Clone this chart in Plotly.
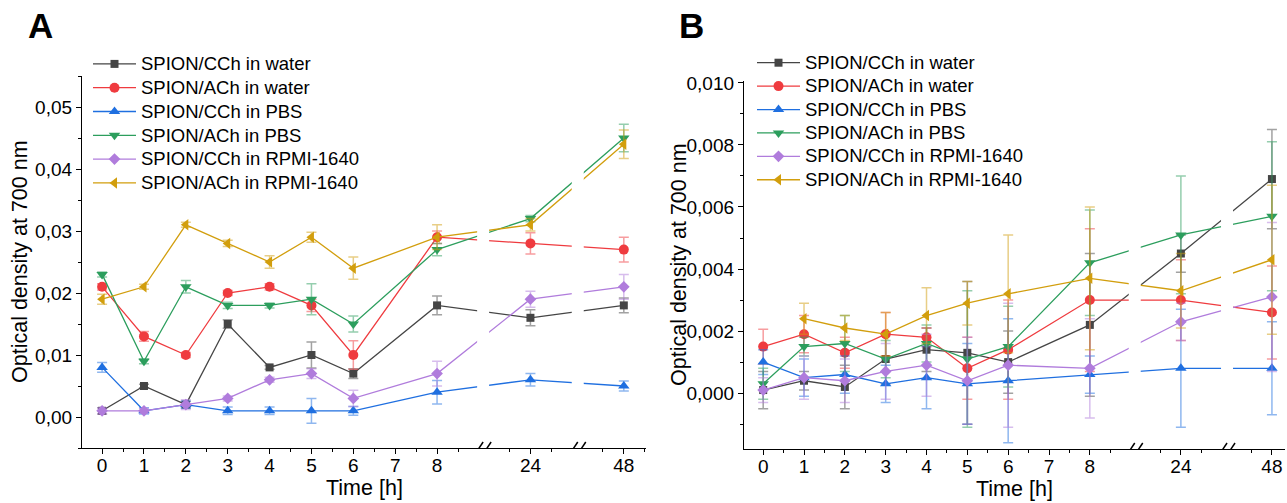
import plotly.graph_objects as go

# ---------------- data ----------------
times = [0, 1, 2, 3, 4, 5, 6, 8, 24, 48]
tick_hours = [0, 1, 2, 3, 4, 5, 6, 7, 8, 24, 48]
tick_labels = ["0", "1", "2", "3", "4", "5", "6", "7", "8", "24", "48"]

series_names = [
    "SPION/CCh in water",
    "SPION/ACh in water",
    "SPION/CCh in PBS",
    "SPION/ACh in PBS",
    "SPION/CCh in RPMI-1640",
    "SPION/ACh in RPMI-1640",
]

# Panel A
a_cch_water = [0.001, 0.005, 0.002, 0.015, 0.008, 0.010, 0.007, 0.018, 0.016, 0.018]
a_cch_water_err = [0.0005, 0.0003, 0.0005, 0.0007, 0.0003, 0.0021, 0.0008, 0.0015, 0.0013, 0.0012]
a_ach_water = [0.021, 0.013, 0.010, 0.020, 0.021, 0.018, 0.010, 0.029, 0.028, 0.027]
a_ach_water_err = [0.0005, 0.0008, 0.0004, 0.0004, 0.0005, 0.0010, 0.0023, 0.0010, 0.0017, 0.0020]
a_cch_pbs = [0.008, 0.001, 0.002, 0.001, 0.001, 0.001, 0.001, 0.004, 0.006, 0.005]
a_cch_pbs_err = [0.0008, 0.0005, 0.0006, 0.0006, 0.0006, 0.0020, 0.0007, 0.0019, 0.0010, 0.0008]
a_ach_pbs = [0.023, 0.009, 0.021, 0.018, 0.018, 0.019, 0.015, 0.027, 0.032, 0.045]
a_ach_pbs_err = [0.0004, 0.0004, 0.0010, 0.0005, 0.0004, 0.0025, 0.0013, 0.0010, 0.0005, 0.0022]
a_cch_rpmi = [0.001, 0.001, 0.002, 0.003, 0.006, 0.007, 0.003, 0.007, 0.019, 0.021]
a_cch_rpmi_err = [0.0005, 0.0004, 0.0008, 0.0004, 0.0004, 0.0008, 0.0013, 0.0020, 0.0013, 0.0020]
a_ach_rpmi = [0.019, 0.021, 0.031, 0.028, 0.025, 0.029, 0.024, 0.029, 0.031, 0.044]
a_ach_rpmi_err = [0.0008, 0.0004, 0.0004, 0.0005, 0.0010, 0.0008, 0.0018, 0.0020, 0.0010, 0.0023]

# Panel B
b_cch_water = [0.0001, 0.0004, 0.0002, 0.0011, 0.0014, 0.0013, 0.0010, 0.0022, 0.0045, 0.0069]
b_cch_water_err = [0.0006, 0.0003, 0.0007, 0.0008, 0.0007, 0.0023, 0.0010, 0.0023, 0.0006, 0.0016]
b_ach_water = [0.0015, 0.0019, 0.0013, 0.0019, 0.0018, 0.0008, 0.0014, 0.0030, 0.0030, 0.0026]
b_ach_water_err = [0.00056, 0.0006, 0.0005, 0.0007, 0.0003, 0.0010, 0.0016, 0.0023, 0.0013, 0.0015]
b_cch_pbs = [0.0010, 0.0005, 0.0006, 0.0003, 0.0005, 0.0003, 0.0004, 0.0006, 0.0008, 0.0008]
b_cch_pbs_err = [0.0004, 0.0006, 0.0006, 0.0006, 0.0010, 0.0013, 0.0020, 0.0006, 0.0019, 0.0015]
b_ach_pbs = [0.0003, 0.0015, 0.0016, 0.0011, 0.0016, 0.0011, 0.0015, 0.0042, 0.0051, 0.0057]
b_ach_pbs_err = [0.0005, 0.0003, 0.0009, 0.0006, 0.0006, 0.0022, 0.0013, 0.0017, 0.0019, 0.0024]
b_cch_rpmi = [0.0001, 0.0005, 0.0004, 0.0007, 0.0009, 0.0004, 0.0009, 0.0008, 0.0023, 0.0031]
b_cch_rpmi_err = [0.0004, 0.0007, 0.0007, 0.0009, 0.0010, 0.0014, 0.0020, 0.0016, 0.0006, 0.0024]
b_ach_rpmi = [None, 0.0024, 0.0021, 0.0019, 0.0025, 0.0029, 0.0032, 0.0037, 0.0033, 0.0043]
b_ach_rpmi_err = [None, 0.0005, 0.0004, 0.0007, 0.0009, 0.0007, 0.0019, 0.0023, 0.0012, 0.0024]

# ---------------- styling ----------------
colors = ["#454545", "#ef3b3f", "#1f6fe0", "#2c9e5d", "#b07cdc", "#d29e0d"]
err_colors = ["rgba(69,69,69,0.5)", "rgba(239,59,63,0.5)", "rgba(31,111,224,0.5)",
              "rgba(44,158,93,0.5)", "rgba(176,124,220,0.5)", "rgba(210,158,13,0.5)"]
symbols = ["square", "circle", "triangle-up", "triangle-down", "diamond", "triangle-left"]
sizes = [8, 10, 10, 10, 9, 10]
FONT = "Liberation Sans, Arial, sans-serif"
W, H = 1287, 503

# broken time axis: hours -> axis position (segments 0-8 | 24 | 48)
SEG_STEP = 2.23


def axis_pos(h):
    if h <= 8:
        return h
    return 8 + SEG_STEP * (1 if h == 24 else 2)


x_pos = [axis_pos(t) for t in times]
tick_pos = [axis_pos(t) for t in tick_hours]
break_pos = [9.1, 11.36]
minor_pos = [p + 0.5 for p in range(0, 9)] + [axis_pos(24) - 0.5, axis_pos(24) + 0.5,
                                               axis_pos(48) - 0.5, axis_pos(48) + 0.5]

panel_a = [a_cch_water, a_ach_water, a_cch_pbs, a_ach_pbs, a_cch_rpmi, a_ach_rpmi]
panel_a_err = [a_cch_water_err, a_ach_water_err, a_cch_pbs_err, a_ach_pbs_err, a_cch_rpmi_err, a_ach_rpmi_err]
panel_b = [b_cch_water, b_ach_water, b_cch_pbs, b_ach_pbs, b_cch_rpmi, b_ach_rpmi]
panel_b_err = [b_cch_water_err, b_ach_water_err, b_cch_pbs_err, b_ach_pbs_err, b_cch_rpmi_err, b_ach_rpmi_err]

fig = go.Figure()

for vals, errs, xa, ya, leg in [(panel_a, panel_a_err, "x", "y", "legend"),
                                (panel_b, panel_b_err, "x2", "y2", "legend2")]:
    for i in range(6):
        fig.add_trace(go.Scatter(
            x=x_pos, y=vals[i],
            name='<span style="font-size:18.5px">' + series_names[i] + "</span>",
            mode="lines+markers", xaxis=xa, yaxis=ya, legend=leg,
            line=dict(color=colors[i], width=1.3),
            marker=dict(symbol=symbols[i], size=sizes[i], color=colors[i]),
            error_y=dict(type="data", array=errs[i], visible=True,
                         color=err_colors[i], thickness=1.5, width=5),
            connectgaps=False,
        ))

axis_common = dict(showline=True, linecolor="black", linewidth=1.3, ticks="outside",
                   ticklen=5, tickwidth=1.3, tickcolor="black", showgrid=False,
                   zeroline=False, mirror=False, automargin=False,
                   tickfont=dict(family=FONT, size=19, color="black"))

xcommon = dict(axis_common, tickmode="array", tickvals=tick_pos, ticktext=tick_labels,
               ticklabelstandoff=-5,
               minor=dict(tickmode="array", tickvals=minor_pos, ticks="outside",
                          ticklen=3, tickwidth=1.3, tickcolor="black"))

fig.update_layout(
    width=W, height=H,
    margin=dict(l=0, r=0, t=0, b=0, autoexpand=False),
    paper_bgcolor="white", plot_bgcolor="white",
    separators=",.",
    font=dict(family=FONT, color="black"),
    showlegend=True,
    xaxis=dict(xcommon, domain=[82 / W, 646 / W], range=[-0.48, 12.99], anchor="y"),
    xaxis2=dict(xcommon, domain=[744 / W, 1285 / W], range=[-0.47, 12.78], anchor="y2"),
    yaxis=dict(axis_common, domain=[1 - 448 / H, 1 - 76 / H], range=[-0.005, 0.055],
               anchor="x", tickvals=[0, 0.01, 0.02, 0.03, 0.04, 0.05], tickformat=".2f",
               minor=dict(dtick=0.005, tick0=0, ticks="outside", ticklen=3, tickwidth=1.3,
                          tickcolor="black")),
    yaxis2=dict(axis_common, domain=[1 - 449 / H, 1 - 81 / H], range=[-0.0018, 0.01006],
                anchor="x2", tickvals=[0, 0.002, 0.004, 0.006, 0.008, 0.010], tickformat=".3f",
                minor=dict(dtick=0.001, tick0=0, ticks="outside", ticklen=3, tickwidth=1.3,
                           tickcolor="black")),
    legend=dict(x=88 / W, y=1 - 47 / H, xanchor="left", yanchor="top",
                bgcolor="rgba(0,0,0,0)", borderwidth=0, tracegroupgap=0, itemwidth=43,
                font=dict(family=FONT, size=16, color="black")),
    legend2=dict(x=752 / W, y=1 - 46 / H, xanchor="left", yanchor="top",
                 bgcolor="rgba(0,0,0,0)", borderwidth=0, tracegroupgap=0, itemwidth=43,
                 font=dict(family=FONT, size=15.7, color="black")),
)

# panel letters
for letter, px in [("A", 40), ("B", 691)]:
    fig.add_annotation(text="<b>" + letter + "</b>", x=px / W, y=1 - 26 / H, xref="paper",
                       yref="paper", xanchor="center", yanchor="middle", showarrow=False,
                       font=dict(family=FONT, size=35, color="black"))

# axis titles
for px, py in [(20, 262), (679, 265)]:
    fig.add_annotation(text="Optical density at 700 nm", x=px / W, y=1 - py / H, xref="paper",
                       yref="paper", xanchor="center", yanchor="middle", textangle=-90,
                       showarrow=False, font=dict(family=FONT, size=21.5, color="black"))
for px, py in [(364, 488), (1014, 489)]:
    fig.add_annotation(text="Time [h]", x=px / W, y=1 - py / H, xref="paper",
                       yref="paper", xanchor="center", yanchor="middle",
                       showarrow=False, font=dict(family=FONT, size=21.5, color="black"))

# axis breaks: gap in the lines, gap in the axis line, and "//" marks
for xa, ya, yr in [("x", "y", -0.005), ("x2", "y2", -0.0018)]:
    for bp in break_pos:
        fig.add_shape(type="rect", xref=xa, yref=ya + " domain", xsizemode="pixel", xanchor=bp,
                      x0=-6, x1=6, y0=0.012, y1=1.0, fillcolor="white", line_width=0,
                      layer="above")
        fig.add_shape(type="rect", xref=xa, yref=ya, xsizemode="pixel", xanchor=bp,
                      ysizemode="pixel", yanchor=yr, x0=-4, x1=4, y0=-3, y1=3,
                      fillcolor="white", line_width=0, layer="above")
        for off in (-4, 4):
            fig.add_shape(type="line", xref=xa, yref=ya, xsizemode="pixel", xanchor=bp,
                          ysizemode="pixel", yanchor=yr, x0=off - 4, x1=off + 4, y0=-6, y1=6,
                          line=dict(color="black", width=1.5), layer="above")

fig.write_html("out.html", config={"displayModeBar": False},
               post_script="document.body.style.margin='0';document.body.style.overflow='hidden';")
